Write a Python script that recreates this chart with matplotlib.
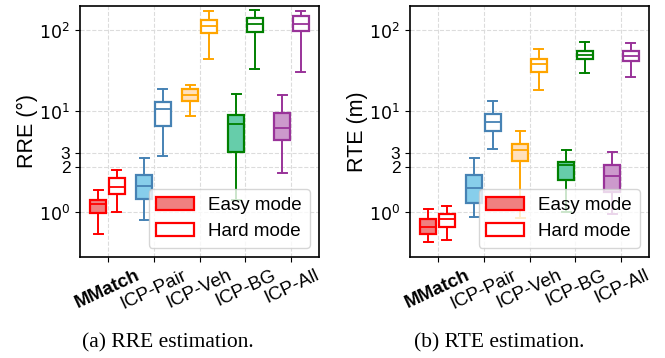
import matplotlib
matplotlib.use('Agg')
import matplotlib.pyplot as plt
from matplotlib.patches import Patch
from matplotlib.ticker import NullLocator

plt.rcParams['font.family'] = ['Liberation Sans', 'DejaVu Sans']

methods = ['MMatch', 'ICP-Pair', 'ICP-Veh', 'ICP-BG', 'ICP-All']
edge_colors = ['#ff0000', '#4682b4', '#ffa500', '#008000', '#993399']
fill_colors = ['#f08080', '#87ceeb', '#ffe0bd', '#66cdaa', '#cc99cc']

# RRE (deg) box statistics
rre_easy_whislo = [0.52, 0.82, 8.7, 1.27, 1.88]
rre_easy_q1 = [0.99, 1.30, 13.4, 3.08, 4.35]
rre_easy_med = [1.19, 1.58, 15.9, 6.8, 6.2]
rre_easy_q3 = [1.27, 1.83, 18.7, 8.8, 9.4]
rre_easy_whishi = [1.50, 2.59, 20.8, 16.2, 15.9]

rre_hard_whislo = [1.00, 2.8, 43.8, 33.6, 30.8]
rre_hard_q1 = [1.41, 6.6, 93, 95, 97]
rre_hard_med = [1.56, 10.5, 112, 121, 121]
rre_hard_q3 = [1.77, 13.1, 136, 144, 149]
rre_hard_whishi = [1.93, 18.9, 173, 178, 175]

# RTE (m) box statistics
rte_easy_whislo = [0.33, 0.90, 0.88, 1.00, 0.97]
rte_easy_q1 = [0.51, 1.21, 2.42, 1.71, 1.45]
rte_easy_med = [0.68, 1.54, 3.3, 2.12, 1.81]
rte_easy_q3 = [0.84, 1.83, 3.9, 2.33, 2.12]
rte_easy_whishi = [1.07, 2.61, 5.6, 3.26, 3.14]

rte_hard_whislo = [0.38, 3.4, 18.0, 29.3, 26.2]
rte_hard_q1 = [0.67, 5.7, 30.2, 43.8, 41.4]
rte_hard_med = [0.84, 7.2, 38.5, 48.8, 47.9]
rte_hard_q3 = [0.97, 9.1, 43.5, 54.8, 55.8]
rte_hard_whishi = [1.14, 13.4, 59, 71, 69.7]

ytick_vals = [1, 2, 3, 10, 100]
ytick_labels = [r'$10^0$', '2', '3', r'$10^1$', r'$10^2$']

W, H = 665, 358
fig = plt.figure(figsize=(W / 100, H / 100), dpi=100)

def make_stats(lo, q1, med, q3, hi, i):
    return dict(whislo=lo[i], q1=q1[i], med=med[i], q3=q3[i], whishi=hi[i], fliers=[])

def draw(ax, easy, hard, ylabel):
    ax.set_yscale('symlog', linthresh=2, linscale=1)
    for i in range(len(methods)):
        ec = edge_colors[i]
        for stats_arr, off, fc in ((easy, -0.2, fill_colors[i]), (hard, 0.2, 'white')):
            st = make_stats(*stats_arr, i)
            ax.bxp([st], positions=[i + off], widths=0.35, capwidths=0.2,
                   patch_artist=True, showfliers=False,
                   boxprops=dict(facecolor=fc, edgecolor=ec, linewidth=1.6),
                   medianprops=dict(color=ec, linewidth=1.3),
                   whiskerprops=dict(color=ec, linewidth=1.4),
                   capprops=dict(color=ec, linewidth=1.4),
                   manage_ticks=False)
    ax.set_xlim(-0.6, len(methods) - 0.4)
    ax.set_ylim(0, 200)
    ax.set_yticks(ytick_vals)
    ax.set_yticklabels(ytick_labels, fontsize=12.5)
    ax.yaxis.set_minor_locator(NullLocator())
    ax.set_xticks(range(len(methods)))
    ax.set_xticklabels(methods, rotation=25, ha='center', fontsize=13.5)
    ax.get_xticklabels()[0].set_fontweight('bold')
    ax.set_ylabel(ylabel, fontsize=15.5, labelpad=1)
    ax.grid(True, linestyle='--', color='#dcdcdc', linewidth=0.8)
    ax.set_axisbelow(True)
    for s in ax.spines.values():
        s.set_linewidth(1.2)
    handles = [Patch(facecolor=fill_colors[0], edgecolor=edge_colors[0], linewidth=1.6, label='Easy mode'),
               Patch(facecolor='white', edgecolor=edge_colors[0], linewidth=1.6, label='Hard mode')]
    ax.legend(handles=handles, loc='lower right', fontsize=13.5)

ax1 = fig.add_axes([80 / W, 1 - 257 / H, 239 / W, 251 / H])
ax2 = fig.add_axes([410 / W, 1 - 257 / H, 239 / W, 251 / H])

draw(ax1, (rre_easy_whislo, rre_easy_q1, rre_easy_med, rre_easy_q3, rre_easy_whishi),
     (rre_hard_whislo, rre_hard_q1, rre_hard_med, rre_hard_q3, rre_hard_whishi), 'RRE (°)')
draw(ax2, (rte_easy_whislo, rte_easy_q1, rte_easy_med, rte_easy_q3, rte_easy_whishi),
     (rte_hard_whislo, rte_hard_q1, rte_hard_med, rte_hard_q3, rte_hard_whishi), 'RTE (m)')

fig.text(168 / W, 1 - 343 / H, '(a) RRE estimation.', ha='center', va='center',
         fontsize=15.5, family='Liberation Serif')
fig.text(499 / W, 1 - 343 / H, '(b) RTE estimation.', ha='center', va='center',
         fontsize=15.5, family='Liberation Serif')

fig.savefig('out.png', dpi=100)
